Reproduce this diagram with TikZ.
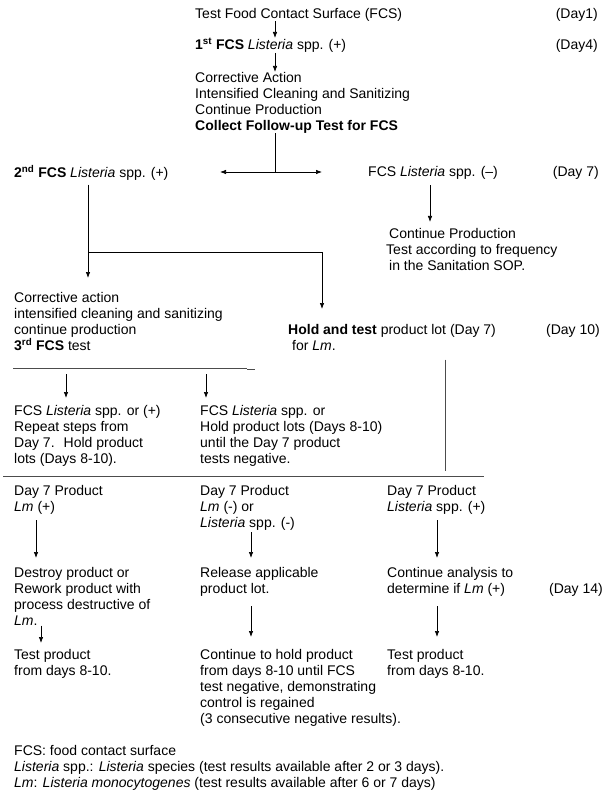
\documentclass[tikz,border=0pt]{standalone}
\usepackage{fontspec}
\setmainfont{Liberation Sans}
\usetikzlibrary{arrows.meta}

\begin{document}
\begin{tikzpicture}[x=1pt,y=-1pt,
  txt/.style={anchor=north west,inner sep=0pt,align=left,font=\fontsize{14}{16}\selectfont},
  day/.style={anchor=north east,inner sep=0pt,font=\fontsize{14}{16}\selectfont},
  arr/.style={-{Latex[length=6pt,width=4.5pt]},line width=0.7pt},
  both/.style={{Latex[length=6pt,width=4.5pt]}-{Latex[length=6pt,width=4.5pt]},line width=0.7pt},
  rule/.style={line width=0.9pt,black!70}]
  \useasboundingbox (0,0) rectangle (605,794);
  \coordinate (mx) at (275,0);
  \coordinate (lx) at (88,0);
  \coordinate (hx) at (322,0);
  \coordinate (nx) at (430,0);
  \coordinate (ax) at (66,0);
  \coordinate (bx) at (206,0);
  \coordinate (vx) at (445,0);
  \coordinate (c1x) at (36,0);
  \coordinate (c2x) at (251,0);
  \coordinate (c3x) at (437,0);
  \coordinate (e1x) at (41,0);

  \node (test) at (195,8) [txt] {Test Food Contact Surface (FCS)};
  \node (d1) at (598,8) [day] {(Day1)};
  \node (first) at (195,38) [txt] {\textbf{1\textsuperscript{st} FCS} \textit{Listeria} spp. (+)};
  \node (d4) at (598,39) [day] {(Day4)};
  \node (act) at (195,72) [txt] {Corrective Action\\Intensified Cleaning and Sanitizing\\Continue Production\\\textbf{Collect Follow-up Test for FCS}};
  \node (second) at (14,165) [txt] {\textbf{2\textsuperscript{nd} FCS} \textit{Listeria} spp. (+)};
  \node (neg) at (368,166) [txt] {FCS \textit{Listeria} spp. (–)};
  \node (d7) at (599,166) [day] {(Day 7)};
  \node (cont) at (386,228) [txt] {\hspace*{3pt}Continue Production\\Test according to frequency\\\hspace*{3pt}in the Sanitation SOP.};
  \node (act3) at (14,292) [txt] {Corrective action\\intensified cleaning and sanitizing\\continue production\\\textbf{3\textsuperscript{rd} FCS} test};
  \node (hold) at (288,324) [txt] {\textbf{Hold and test} product lot (Day 7)\\\hspace*{4pt}for \textit{Lm}.};
  \node (d10) at (600,324) [day] {(Day 10)};
  \node (rep) at (14,405) [txt] {FCS \textit{Listeria} spp. or (+)\\Repeat steps from\\Day 7.~ Hold product\\lots (Days 8-10).};
  \node (wait) at (200,405) [txt] {FCS \textit{Listeria} spp. or\\Hold product lots (Days 8-10)\\until the Day 7 product\\tests negative.};
  \node (p1) at (14,485) [txt] {Day 7 Product\\\textit{Lm} (+)};
  \node (p2) at (200,485) [txt] {Day 7 Product\\\textit{Lm} (-) or\\\textit{Listeria} spp. (-)};
  \node (p3) at (387,485) [txt] {Day 7 Product\\\textit{Listeria} spp. (+)};
  \node (des) at (14,567) [txt] {Destroy product or\\Rework product with\\process destructive of\\\textit{Lm}.};
  \node (rel) at (200,567) [txt] {Release applicable\\product lot.};
  \node (con) at (387,567) [txt] {Continue analysis to\\determine if \textit{Lm} (+)};
  \node (d14) at (603,583) [day] {(Day 14)};
  \node (tp1) at (14,649) [txt] {Test product\\from days 8-10.};
  \node (keep) at (200,649) [txt] {Continue to hold product\\from days 8-10 until FCS\\test negative, demonstrating\\control is regained\\(3 consecutive negative results).};
  \node (tp3) at (387,649) [txt] {Test product\\from days 8-10.};
  \node (note) at (14,745) [txt] {FCS: food contact surface\\\textit{Listeria} spp.: \textit{Listeria} species (test results available after 2 or 3 days).\\\textit{Lm}: \textit{Listeria monocytogenes} (test results available after 6 or 7 days)};

  \coordinate (split) at (275,172);
  \coordinate (la) at (220,172);
  \coordinate (ra) at (322,172);
  \coordinate (fork) at (88,252);
  \coordinate (r1) at (13,368);
  \coordinate (r2) at (247,368);
  \coordinate (s1) at (3,476);
  \coordinate (s2) at (484,476);

  \draw[arr] (test.south -| mx) to (first.north -| mx);
  \draw[arr] (first.south -| mx) to (act.north -| mx);
  \draw[line width=0.7pt] (act.south -| mx) to (split);
  \draw[both] (la) to (ra);
  \draw[arr,shorten <=6pt,shorten >=6pt] (neg.south -| nx) to (cont.north -| nx);
  \draw[arr,shorten <=4pt,shorten >=14pt] (second.south -| lx) to (act3.north -| lx);
  \draw[arr,shorten >=15pt] (fork) -| (hold.north -| hx);
  \draw[rule] (r1) to (r2);
  \draw[rule] ([yshift=-1.5pt]r2) to ++(8,0);
  \draw[arr,shorten <=6pt,shorten >=7pt] (r1 -| ax) to (rep.north -| ax);
  \draw[arr,shorten <=6pt,shorten >=7pt] (r1 -| bx) to (wait.north -| bx);
  \draw[line width=0.8pt,black!70,shorten <=9pt,shorten >=5pt] (hold.south -| vx) to (s1 -| vx);
  \draw[rule] (s1) to (s2);
  \draw[arr,shorten <=6pt,shorten >=9pt] (p1.south -| c1x) to (des.north -| c1x);
  \draw[arr,shorten <=2pt,shorten >=9pt] (p2.south -| c2x) to (rel.north -| c2x);
  \draw[arr,shorten <=6pt,shorten >=9pt] (p3.south -| c3x) to (con.north -| c3x);
  \draw[arr,shorten >=6pt] (des.south -| e1x) to (tp1.north -| e1x);
  \draw[arr,shorten <=10pt,shorten >=12pt] (rel.south -| c2x) to (keep.north -| c2x);
  \draw[arr,shorten <=10pt,shorten >=12pt] (con.south -| c3x) to (tp3.north -| c3x);
\end{tikzpicture}
\end{document}
